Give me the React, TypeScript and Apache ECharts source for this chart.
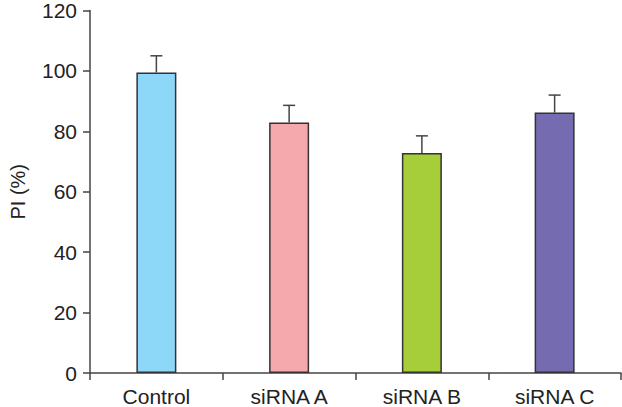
import React, { useEffect, useRef } from "react";
import * as echarts from "echarts";

const categories = ["Control", "siRNA A", "siRNA B", "siRNA C"];
const means = [99.5, 82.9, 72.8, 86.2];
const upper = [105.0, 88.6, 78.5, 92.0];
const colors = ["#8dd8f8", "#f5a9ad", "#a6ce39", "#756bb1"];
const yTicks = [0, 20, 40, 60, 80, 100, 120];

export default function App() {
  const ref = useRef<HTMLDivElement>(null);
  useEffect(() => {
    if (!ref.current) return;
    const chart = echarts.init(ref.current, undefined, { renderer: "svg" });
    const axisColor = "#444";
    chart.setOption({
      animation: false,
      textStyle: { fontFamily: "Liberation Sans, Arial, sans-serif" },
      grid: { left: 83, right: 1, top: 8, bottom: 33 },
      xAxis: {
        type: "category",
        data: categories,
        boundaryGap: true,
        axisLine: { lineStyle: { color: axisColor, width: 1.5 } },
        axisTick: { show: true, alignWithLabel: false, length: 7, inside: false, lineStyle: { color: axisColor, width: 1.5 } },
        axisLabel: { color: "#222", fontSize: 21, margin: 13 },
      },
      yAxis: {
        type: "value",
        min: yTicks[0],
        max: yTicks[yTicks.length - 1],
        interval: 20,
        name: "PI (%)",
        nameLocation: "middle",
        nameGap: 62,
        nameTextStyle: { color: "#222", fontSize: 20 },
        axisLine: { show: true, lineStyle: { color: axisColor, width: 1.5 } },
        axisTick: { show: true, length: 7, lineStyle: { color: axisColor, width: 1.5 } },
        axisLabel: { color: "#222", fontSize: 21, margin: 13 },
        splitLine: { show: false },
      },
      series: [
        {
          type: "bar",
          barWidth: 40,
          data: means.map((v, i) => ({
            value: v,
            itemStyle: { color: colors[i], borderColor: "#333", borderWidth: 1.5 },
          })),
        },
        {
          type: "custom",
          data: categories.map((_, i) => [i, means[i], upper[i]]),
          z: 1,
          renderItem: (params: any, api: any) => {
            const x = api.value(0);
            const base = api.coord([x, api.value(1)]);
            const top = api.coord([x, api.value(2)]);
            const half = 6;
            const style = { stroke: "#444", lineWidth: 1.5 };
            return {
              type: "group",
              children: [
                { type: "line", shape: { x1: base[0], y1: base[1], x2: top[0], y2: top[1] }, style },
                { type: "line", shape: { x1: top[0] - half, y1: top[1], x2: top[0] + half, y2: top[1] }, style },
              ],
            };
          },
        },
      ],
    });
    return () => chart.dispose();
  }, []);
  return <div ref={ref} style={{ width: 622, height: 407, position: "absolute", left: 0, top: 0 }} />;
}
